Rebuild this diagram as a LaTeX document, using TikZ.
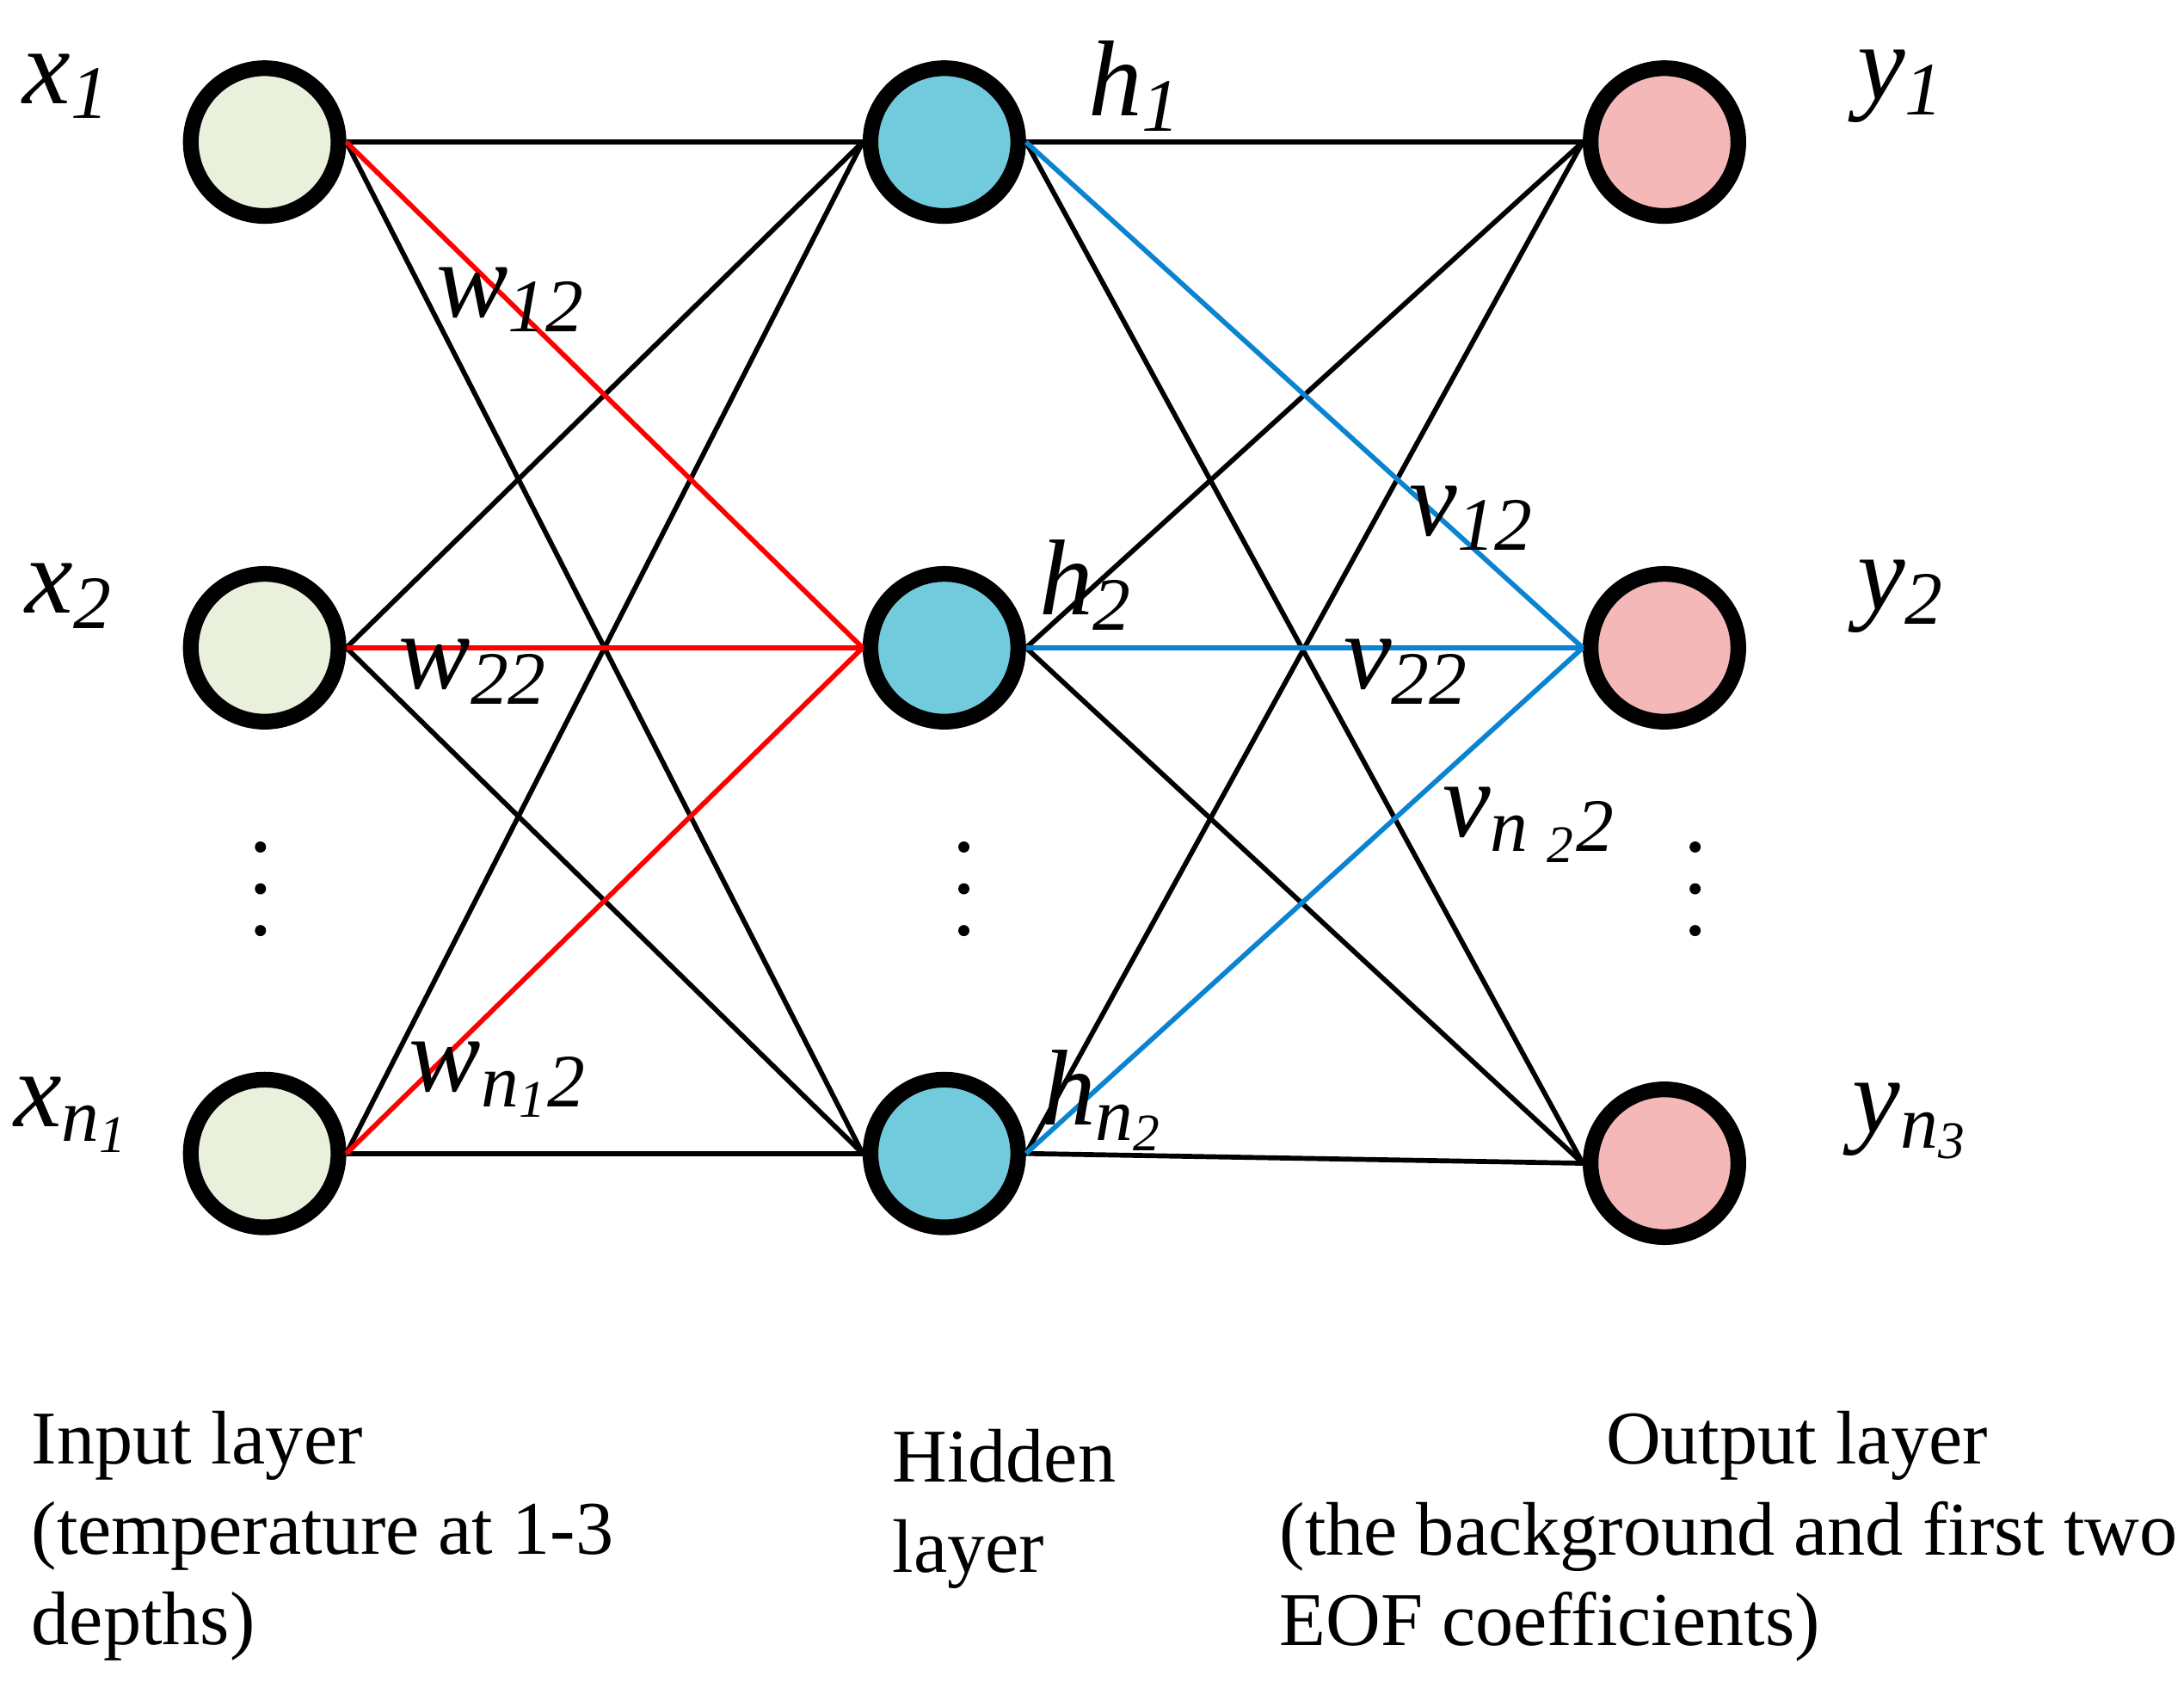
\documentclass[tikz,border=0pt]{standalone}
\usepackage{fontspec}
\setmainfont{Liberation Serif}
\newcommand{\sbs}[1]{\textsubscript{\textit{#1}}}
\begin{document}
\begin{tikzpicture}[x=0.01cm,y=-0.01cm,
 neu/.style={circle,draw=black,line width=3.2pt,minimum size=1.06cm,inner sep=0pt},
 e/.style={line width=1pt},
 lab/.style={font=\fontsize{22}{22}\selectfont\itshape},
 txt/.style={font=\fontsize{15.5}{18.5}\selectfont,align=left,inner sep=0pt}]
\useasboundingbox (0,0) rectangle (1568,1207);
\definecolor{ig}{HTML}{E9F0DB}\definecolor{hb}{HTML}{72CBDD}\definecolor{op}{HTML}{F4B8B8}
\definecolor{bl}{HTML}{0A84D0}
\node[neu,fill=ig] (i1) at (190,102) {};
\node[neu,fill=ig] (i2) at (190,465) {};
\node[neu,fill=ig] (i3) at (190,828) {};
\node[neu,fill=hb] (h1) at (678,102) {};
\node[neu,fill=hb] (h2) at (678,465) {};
\node[neu,fill=hb] (h3) at (678,828) {};
\node[neu,fill=op] (o1) at (1195,102) {};
\node[neu,fill=op] (o2) at (1195,465) {};
\node[neu,fill=op] (o3) at (1195,835) {};
\foreach \a in {i1,i3} \foreach \b in {h1,h3} \draw[e] (\a.east) -- (\b.west);
\foreach \b in {h1,h3} \draw[e] (i2.east) -- (\b.west);
\foreach \a in {i1,i2,i3} \draw[e,red] (\a.east) -- (h2.west);
\foreach \a in {h1,h3} \foreach \b in {o1,o3} \draw[e] (\a.east) -- (\b.west);
\foreach \b in {o1,o3} \draw[e] (h2.east) -- (\b.west);
\foreach \a in {h1,h2,h3} \draw[e,bl] (\a.east) -- (o2.west);
\node[lab] at (48,62) {x\sbs{1}};
\node[lab] at (50,428) {x\sbs{2}};
\node[lab] at (52,800) {x\textsubscript{n\textsubscript{1}}};
\node[lab] at (815,62) {h\sbs{1}};
\node[lab] at (780,420) {h\sbs{2}};
\node[lab] at (792,790) {h\textsubscript{n\textsubscript{2}}};
\node[lab] at (1365,62) {y\sbs{1}};
\node[lab] at (1365,428) {y\sbs{2}};
\node[lab] at (1372,805) {y\textsubscript{n\textsubscript{3}}};
\node[lab] at (367,215) {w\sbs{12}};
\node[lab] at (340,482) {w\sbs{22}};
\node[lab] at (358,775) {w\textsubscript{n\textsubscript{1}2}};
\node[lab] at (1057,372) {v\sbs{12}};
\node[lab] at (1010,482) {v\sbs{22}};
\node[lab] at (1098,592) {v\textsubscript{n \textsubscript{2}2}};
\foreach \x in {187,692,1217} \foreach \y in {608,638,668} \fill (\x,\y) circle (4);
\node[txt,anchor=north west] (t1) at (22,1012) {Input layer\\(temperature at 1-3\\depths)};
\node[txt,anchor=north west] (t2) at (640,1025) {Hidden\\layer};
\node[txt,anchor=north] (t3) at (1290,1012) {Output layer};
\node[txt,anchor=north west] (t4) at (918,1077) {(the background and first two\\EOF coefficients)};
\end{tikzpicture}
\end{document}
